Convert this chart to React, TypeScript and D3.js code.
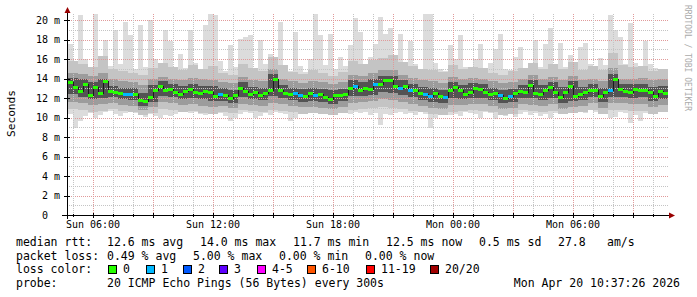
import React from 'react';
import * as d3 from 'd3';

// time axis: hours since Sun 00:00
const START_HOUR = 4.75;
const STEP_FINE = 0.25;   // 15 min
const STEP_COARSE = 0.5;  // 30 min

// median rtt in ms, one value per 15 min
const medianRtt = [
  13.6, 13.1, 12.7, 13.4, 12.3, 13.1, 12.5, 13.7, 12.7, 12.6,
  12.5, 12.4, 12.4, 12.4, 11.8, 11.7, 12.1, 12.8, 13.2, 12.8,
  12.9, 12.6, 12.4, 12.7, 12.9, 12.6, 12.5, 12.7, 12.6, 12.2,
  12.4, 12.3, 12.0, 12.3, 13.0, 12.7, 12.4, 12.6, 12.3, 12.5,
  12.8, 14.0, 12.8, 12.5, 12.4, 12.5, 12.3, 12.2, 12.5, 12.3,
  12.4, 12.1, 11.9, 12.3, 12.3, 12.4, 13.0, 13.2, 12.8, 13.0,
  12.9, 13.4, 13.4, 13.8, 13.8, 13.2, 13.0, 13.2, 12.8, 12.8,
  12.5, 12.4, 12.2, 12.5, 12.2, 12.1, 12.8, 13.1, 12.8, 12.4,
  12.6, 13.0, 12.9, 12.6, 12.4, 12.5, 12.3, 12.0, 12.2, 12.5,
  12.7, 12.6, 13.3, 12.5, 12.4, 12.8, 13.1, 12.6, 12.1, 12.6,
  13.2, 12.2, 12.4, 12.6, 12.8, 12.8, 12.2, 12.6, 12.8, 14.0,
  12.9, 12.7, 12.6, 12.9, 12.8, 12.8, 12.6, 12.2, 12.7, 12.5,
];

// lost pings (of 20) per 15 min
const lossCount = [
  0, 0, 0, 0, 0, 0, 0, 0, 0, 0,
  0, 1, 1, 0, 0, 0, 0, 0, 0, 0,
  0, 0, 0, 0, 0, 0, 0, 0, 0, 0,
  1, 0, 0, 0, 0, 0, 0, 0, 0, 0,
  0, 0, 0, 0, 0, 1, 1, 0, 0, 1,
  0, 0, 0, 0, 0, 0, 0, 1, 0, 0,
  0, 1, 0, 0, 0, 0, 1, 0, 1, 0,
  0, 1, 1, 0, 0, 1, 0, 0, 0, 0,
  0, 0, 0, 0, 0, 0, 1, 0, 1, 0,
  0, 0, 0, 0, 0, 0, 0, 0, 0, 0,
  0, 0, 0, 0, 0, 0, 0, 0, 1, 0,
  0, 0, 0, 0, 0, 0, 0, 0, 0, 0,
];

// slowest ping per 15 min
const maxRtt = [
  17.5, 15.2, 20.5, 16.0, 15.0, 20.8, 14.8, 18.0, 15.3, 19.0,
  15.5, 19.8, 18.5, 15.0, 19.5, 15.2, 20.0, 16.0, 14.9, 19.0,
  17.8, 14.9, 16.5, 15.1, 19.0, 15.6, 15.0, 19.5, 20.8, 20.5,
  15.8, 14.8, 17.4, 15.2, 18.1, 18.3, 18.5, 14.9, 18.0, 15.5,
  16.5, 15.2, 19.8, 15.0, 14.8, 18.8, 15.3, 14.7, 16.0, 20.8,
  18.5, 15.4, 18.6, 15.0, 16.2, 15.3, 17.4, 20.2, 18.8, 15.4,
  16.2, 17.5, 20.3, 18.6, 19.2, 15.8, 18.6, 15.0, 17.8, 15.5,
  15.0, 20.8, 20.6, 15.6, 15.0, 14.8, 17.4, 16.0, 18.5, 15.2,
  15.0, 16.0, 17.5, 14.8, 15.6, 17.0, 18.6, 15.0, 14.9, 16.2,
  17.2, 15.0, 15.6, 18.0, 15.2, 17.5, 19.2, 15.5, 17.6, 15.2,
  16.4, 15.0, 17.2, 17.6, 15.5, 14.9, 16.1, 15.4, 20.5, 19.0,
  18.3, 15.5, 19.7, 15.6, 15.0, 17.8, 15.5, 15.1, 14.7, 15.0,
];

// fastest ping per 15 min
const minRtt = [
  10.4, 8.9, 9.6, 10.2, 10.5, 10.0, 10.3, 10.6, 10.7, 10.4,
  10.2, 10.5, 10.6, 10.5, 10.3, 10.1, 10.4, 10.2, 10.0, 10.3,
  10.2, 10.4, 10.6, 10.7, 10.5, 10.6, 10.4, 10.3, 10.7, 10.8,
  10.5, 10.2, 9.6, 10.0, 10.4, 10.6, 10.5, 9.9, 10.2, 10.5,
  10.3, 10.6, 10.5, 10.4, 9.6, 10.0, 10.5, 10.7, 10.6, 10.6,
  10.5, 10.4, 10.5, 10.4, 10.6, 10.5, 10.4, 10.6, 10.5, 10.6,
  10.3, 10.5, 9.2, 10.4, 10.3, 10.5, 10.6, 10.4, 10.5, 10.3,
  10.6, 10.4, 8.9, 10.0, 10.5, 10.6, 10.3, 10.4, 10.2, 10.6,
  10.5, 10.4, 10.0, 10.6, 10.5, 9.8, 10.3, 10.2, 10.5, 10.1,
  10.4, 10.6, 10.3, 10.5, 10.2, 10.4, 9.9, 10.5, 10.6, 10.8,
  10.6, 10.9, 10.7, 10.5, 10.8, 10.6, 10.4, 10.5, 10.0, 10.1,
  10.6, 10.5, 9.4, 10.3, 9.6, 10.5, 10.7, 10.6, 10.8, 10.7,
];

// smoke bands per 30 min (outer -> inner)
const upper2 = [
  15.8, 15.5, 15.2, 16.3, 15.0, 14.8, 14.6, 14.4, 15.1, 15.6,
  15.2, 14.9, 15.4, 15.0, 15.3, 14.6, 14.4, 15.5, 15.1, 14.8,
  16.2, 15.4, 14.7, 14.5, 14.9, 14.6, 14.3, 14.7, 15.8, 15.5,
  15.9, 16.1, 16.4, 15.7, 15.3, 15.0, 14.9, 14.7, 15.4, 15.0,
  15.2, 15.1, 14.6, 14.4, 14.8, 15.1, 15.6, 15.0, 15.5, 15.0,
  15.7, 14.9, 15.3, 14.9, 16.6, 15.4, 15.2, 15.3, 14.8, 15.0,
];
const lower2 = [
  10.9, 10.8, 10.6, 10.7, 10.9, 10.7, 10.6, 10.3, 10.5, 10.9,
  10.8, 10.6, 10.7, 10.5, 10.4, 10.6, 10.5, 10.8, 10.7, 10.6,
  10.8, 10.7, 10.6, 10.4, 10.5, 10.4, 10.3, 10.5, 10.8, 10.9,
  11.0, 11.1, 11.0, 10.9, 10.7, 10.6, 10.4, 10.3, 10.6, 10.7,
  10.8, 10.7, 10.6, 10.3, 10.4, 10.8, 10.7, 10.6, 10.7, 10.4,
  10.5, 10.6, 10.8, 10.4, 10.8, 10.8, 10.7, 10.7, 10.4, 10.6,
];
const upper3 = [
  14.6, 14.5, 14.3, 14.6, 13.9, 13.7, 13.6, 13.3, 13.9, 14.2,
  14.0, 13.8, 14.1, 13.9, 13.8, 13.6, 13.5, 14.2, 13.8, 13.7,
  15.0, 14.0, 13.7, 13.5, 13.7, 13.6, 13.4, 13.6, 14.4, 14.3,
  14.6, 14.9, 14.9, 14.4, 14.1, 13.8, 13.7, 13.5, 14.2, 14.0,
  14.1, 14.0, 13.7, 13.5, 13.6, 13.9, 14.4, 13.9, 14.2, 13.8,
  14.3, 13.8, 14.0, 13.7, 15.1, 14.0, 14.0, 14.1, 13.8, 13.9,
];
const lower3 = [
  11.6, 11.5, 11.3, 11.4, 11.5, 11.3, 11.2, 10.8, 11.1, 11.6,
  11.5, 11.3, 11.4, 11.2, 11.1, 11.2, 11.0, 11.4, 11.3, 11.2,
  11.5, 11.4, 11.2, 11.1, 11.1, 11.0, 10.9, 11.1, 11.5, 11.6,
  11.7, 11.9, 11.8, 11.6, 11.4, 11.2, 11.0, 10.9, 11.3, 11.3,
  11.4, 11.4, 11.2, 10.9, 11.0, 11.4, 11.3, 11.2, 11.4, 10.9,
  11.1, 11.2, 11.5, 11.0, 11.5, 11.5, 11.4, 11.4, 11.1, 11.3,
];
const upper4 = [
  14.1, 13.9, 13.6, 14.0, 13.2, 13.0, 13.0, 12.5, 13.3, 13.7,
  13.4, 13.2, 13.4, 13.2, 13.2, 13.0, 12.8, 13.6, 13.1, 13.0,
  14.5, 13.3, 13.0, 12.9, 13.0, 12.9, 12.8, 12.9, 13.8, 13.6,
  14.0, 14.3, 14.3, 13.8, 13.4, 13.1, 13.0, 12.8, 13.6, 13.3,
  13.5, 13.4, 13.0, 12.8, 12.9, 13.3, 13.8, 13.3, 13.6, 13.1,
  13.7, 13.1, 13.4, 13.0, 14.5, 13.4, 13.4, 13.4, 13.1, 13.2,
];
const lower4 = [
  12.4, 12.1, 11.9, 12.0, 12.1, 11.9, 11.8, 11.2, 11.6, 12.2,
  12.1, 11.9, 12.0, 11.9, 11.7, 11.7, 11.5, 12.1, 11.9, 11.8,
  12.2, 12.0, 11.8, 11.6, 11.7, 11.6, 11.4, 11.7, 12.2, 12.2,
  12.3, 12.6, 12.5, 12.3, 12.1, 11.8, 11.6, 11.5, 12.0, 11.9,
  12.0, 12.0, 11.8, 11.5, 11.6, 12.0, 12.0, 11.8, 12.0, 11.5,
  11.7, 11.8, 12.1, 11.6, 12.1, 12.1, 12.0, 12.1, 11.7, 11.9,
];

const yTickValues = [0, 2, 4, 6, 8, 10, 12, 14, 16, 18, 20];
const yTickLabels = ['0  ', '2 m', '4 m', '6 m', '8 m', '10 m', '12 m', '14 m', '16 m', '18 m', '20 m'];
const xTickHours = [6, 12, 18, 24, 30];
const xTickLabels = ['Sun 06:00', 'Sun 12:00', 'Sun 18:00', 'Mon 00:00', 'Mon 06:00'];

const lossLabels = ['0', '1', '2', '3', '4-5', '6-10', '11-19', '20/20'];
const lossColors = ['#26ff00', '#00b8ff', '#0059ff', '#5e00ff', '#ff00ff', '#ff5500', '#ff0000', '#a10000'];

const rttStats = ['12.6 ms avg', '14.0 ms max', '11.7 ms min', '12.5 ms now', '0.5 ms sd', '27.8', 'am/s'];
const lossStats = ['0.49 % avg', '5.00 % max', '0.00 % min', '0.00 % now'];
const probeText = '20 ICMP Echo Pings (56 Bytes) every 300s';
const stampText = 'Mon Apr 20 10:37:26 2026';

const FONT = '"DejaVu Sans Mono", monospace';

function lossBucket(c: number): number {
  if (c <= 0) return 0;
  if (c === 1) return 1;
  if (c === 2) return 2;
  if (c === 3) return 3;
  if (c <= 5) return 4;
  if (c <= 10) return 5;
  if (c <= 19) return 6;
  return 7;
}

export default function App() {
  const x = d3.scaleLinear().domain([START_HOUR, START_HOUR + 30]).range([68, 668]);
  const y = d3.scaleLinear().domain([0, 20]).range([215, 20]);
  const plotTop = 14;
  const plotLeft = 67;
  const plotRight = 669;

  const band = (lo: number[], hi: number[], step: number, color: string, key: string) =>
    lo.map((l, i) => {
      const t = START_HOUR + i * step;
      const x0 = x(t);
      const x1 = x(t + step);
      const yt = Math.max(plotTop, y(hi[i]));
      const yb = y(l);
      return (
        <rect key={key + i} x={x0} y={yt} width={x1 - x0} height={Math.max(0, yb - yt)} fill={color} shapeRendering="crispEdges" />
      );
    });

  const hGrid = d3.range(1, 21);
  const vGrid = d3.range(5, 35);

  const medPts: [number, number][] = medianRtt.map((m, i) => [START_HOUR + i * STEP_FINE, m]);
  medPts.push([START_HOUR + medianRtt.length * STEP_FINE, medianRtt[medianRtt.length - 1]]);
  const stepLine = d3
    .line<[number, number]>()
    .x((d) => x(d[0]))
    .y((d) => Math.round(y(d[1])) + 0.5)
    .curve(d3.curveStepAfter)(medPts);

  const rttX = [107, 200, 293, 386, 479, 558, 607];
  const lossX = [107, 193, 279, 365];
  const boxX = [108, 146, 183, 219, 257, 307, 366, 430];

  return (
    <svg width={697} height={297} style={{ position: 'absolute', left: 0, top: 0, background: '#fff' }} fontFamily={FONT}>
      <rect x={0} y={0} width={697} height={297} fill="#ffffff" />
      {/* smoke */}
      {band(minRtt, maxRtt, STEP_FINE, '#dcdcdc', 'l1')}
      {band(lower2, upper2, STEP_COARSE, '#c4c4c4', 'l2')}
      {band(lower3, upper3, STEP_COARSE, '#9c9c9c', 'l3')}
      {band(lower4, upper4, STEP_COARSE, '#535353', 'l4')}
      {/* grid */}
      {hGrid.map((v) => (
        <line key={'h' + v} x1={plotLeft} x2={plotRight} y1={Math.round(y(v)) + 0.5} y2={Math.round(y(v)) + 0.5}
          stroke={v % 2 === 0 ? '#e09a9a' : '#c4c4c4'} strokeDasharray="1,1" shapeRendering="crispEdges" />
      ))}
      {vGrid.map((h) => (
        <line key={'v' + h} x1={Math.round(x(h)) + 0.5} x2={Math.round(x(h)) + 0.5} y1={plotTop} y2={215}
          stroke={h % 3 === 0 ? '#e09a9a' : '#c4c4c4'} strokeDasharray="1,1" shapeRendering="crispEdges" />
      ))}
      {/* median */}
      <path d={stepLine || ''} fill="none" stroke="#1a1a1a" strokeWidth={1} shapeRendering="crispEdges" />
      {medianRtt.map((m, i) => {
        const t = START_HOUR + i * STEP_FINE;
        const x0 = x(t);
        const x1 = x(t + STEP_FINE);
        return (
          <rect key={'m' + i} x={x0} y={Math.round(y(m)) - 1} width={x1 - x0} height={3}
            fill={lossColors[lossBucket(lossCount[i])]} shapeRendering="crispEdges" />
        );
      })}
      {/* axes */}
      <line x1={62} x2={670} y1={215.5} y2={215.5} stroke="#000" shapeRendering="crispEdges" />
      <line x1={67.5} x2={67.5} y1={12} y2={219} stroke="#000" shapeRendering="crispEdges" />
      <path d="M67.5,7 L64.5,13 L70.5,13 Z" fill="#990000" />
      <path d="M675,215.5 L669,212.5 L669,218.5 Z" fill="#990000" />
      {vGrid.map((h) => (
        <line key={'t' + h} x1={Math.round(x(h)) + 0.5} x2={Math.round(x(h)) + 0.5} y1={h % 3 === 0 ? 213 : 214} y2={h % 3 === 0 ? 218 : 217}
          stroke="#000" shapeRendering="crispEdges" />
      ))}
      {yTickValues.map((v) => (
        <line key={'yt' + v} x1={64} x2={70} y1={Math.round(y(v)) + 0.5} y2={Math.round(y(v)) + 0.5} stroke="#000" shapeRendering="crispEdges" />
      ))}
      {yTickValues.map((v, i) => (
        <text key={'yl' + v} x={60} y={y(v) + 3.5} fontSize={10} textAnchor="end" fill="#000" style={{ whiteSpace: 'pre' }}>
          {yTickLabels[i]}
        </text>
      ))}
      {xTickHours.map((h, i) => (
        <text key={'xl' + h} x={x(h)} y={228} fontSize={10} textAnchor="middle" fill="#000">
          {xTickLabels[i]}
        </text>
      ))}
      <text transform="translate(15,113.5) rotate(-90)" fontSize={11.2} textAnchor="middle" fill="#000">Seconds</text>
      <text transform="translate(685,5) rotate(90)" fontSize={8} fill="#aaaaaa">RRDTOOL / TOBI OETIKER</text>
      {/* legend */}
      <g fontSize={11.5} fill="#000" style={{ whiteSpace: 'pre' }}>
        <text x={16} y={245.8}>median rtt:</text>
        {rttStats.map((s, i) => (
          <text key={'r' + i} x={rttX[i]} y={245.8}>{s}</text>
        ))}
        <text x={16} y={259.5}>packet loss:</text>
        {lossStats.map((s, i) => (
          <text key={'p' + i} x={lossX[i]} y={259.5}>{s}</text>
        ))}
        <text x={16} y={273.2}>loss color:</text>
        {lossLabels.map((s, i) => (
          <g key={'lc' + i}>
            <rect x={boxX[i] + 0.5} y={265.5} width={8} height={8} fill={lossColors[i]} stroke="#000" shapeRendering="crispEdges" />
            <text x={boxX[i] + 15} y={273.2}>{s}</text>
          </g>
        ))}
        <text x={16} y={286.9}>probe:</text>
        <text x={107} y={286.9}>{probeText}</text>
        <text x={680} y={286.9} textAnchor="end">{stampText}</text>
      </g>
    </svg>
  );
}
